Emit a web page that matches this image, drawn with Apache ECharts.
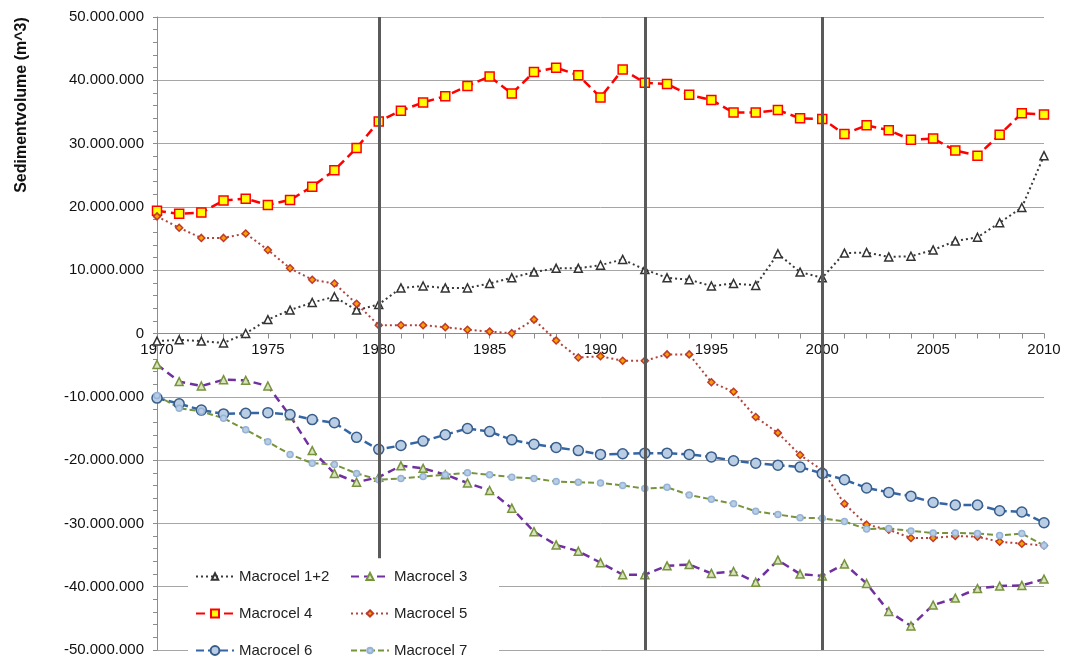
<!DOCTYPE html>
<html><head><meta charset="utf-8">
<script src="https://cdn.jsdelivr.net/npm/echarts@6/dist/echarts.min.js"></script>
<style>html,body{margin:0;padding:0;background:#fff}#c{width:1067px;height:659px}</style>
</head><body><div id="c"></div>
<script>
// Years (x values)
const years = [1970,1971,1972,1973,1974,1975,1976,1977,1978,1979,
               1980,1981,1982,1983,1984,1985,1986,1987,1988,1989,
               1990,1991,1992,1993,1994,1995,1996,1997,1998,1999,
               2000,2001,2002,2003,2004,2005,2006,2007,2008,2009,2010];
// Sediment volume per macrocel, in millions of m^3
const macrocel12 = [-1.2,-1.0,-1.2,-1.5,0.0,2.2,3.7,4.9,5.8,3.7,
                    4.6,7.2,7.5,7.2,7.2,7.9,8.8,9.7,10.3,10.3,
                    10.8,11.7,10.1,8.8,8.5,7.5,7.9,7.6,12.6,9.7,
                    8.8,12.7,12.8,12.1,12.2,13.2,14.6,15.2,17.5,19.9,28.1];
const macrocel3 = [-4.9,-7.6,-8.3,-7.3,-7.4,-8.3,-13.0,-18.5,-22.1,-23.5,
                   -22.7,-20.9,-21.3,-22.3,-23.6,-24.8,-27.6,-31.3,-33.4,-34.4,
                   -36.2,-38.1,-38.1,-36.7,-36.5,-37.9,-37.6,-39.3,-35.8,-38.0,
                   -38.3,-36.4,-39.5,-43.9,-46.2,-42.9,-41.8,-40.3,-39.9,-39.8,-38.8];
const macrocel4 = [19.4,18.9,19.1,21.0,21.3,20.3,21.1,23.2,25.8,29.3,
                   33.5,35.2,36.5,37.5,39.1,40.6,37.9,41.3,42.0,40.8,
                   37.3,41.7,39.6,39.4,37.7,36.9,34.9,34.9,35.3,34.0,
                   33.9,31.5,32.9,32.1,30.6,30.8,28.9,28.1,31.4,34.8,34.6];
const macrocel5 = [18.5,16.7,15.1,15.1,15.8,13.2,10.3,8.5,7.9,4.7,
                   1.3,1.3,1.3,1.0,0.6,0.3,0.05,2.2,-1.1,-3.8,
                   -3.6,-4.3,-4.3,-3.3,-3.3,-7.7,-9.2,-13.2,-15.7,-19.2,
                   -21.6,-26.9,-30.2,-31.0,-32.3,-32.3,-32.0,-32.1,-32.9,-33.2,-33.5];
const macrocel6 = [-10.2,-11.1,-12.1,-12.7,-12.6,-12.5,-12.8,-13.6,-14.1,-16.4,
                   -18.3,-17.7,-17.0,-16.0,-15.0,-15.5,-16.8,-17.5,-18.0,-18.5,
                   -19.1,-19.0,-18.9,-18.9,-19.1,-19.5,-20.1,-20.5,-20.8,-21.1,
                   -22.1,-23.1,-24.4,-25.1,-25.7,-26.7,-27.1,-27.1,-28.0,-28.2,-29.9];
const macrocel7 = [-9.8,-11.8,-12.3,-13.4,-15.2,-17.1,-19.1,-20.5,-20.7,-22.1,
                   -23.1,-22.9,-22.6,-22.3,-22.0,-22.3,-22.7,-22.9,-23.4,-23.5,
                   -23.6,-24.0,-24.5,-24.3,-25.5,-26.2,-26.9,-28.1,-28.6,-29.1,
                   -29.2,-29.7,-30.9,-30.8,-31.2,-31.5,-31.5,-31.6,-31.9,-31.6,-33.5];
const seriesNames = ['Macrocel 1+2','Macrocel 3','Macrocel 4','Macrocel 5','Macrocel 6','Macrocel 7'];
// Vertical reference lines: year, top value, bottom value (m^3)
const refYears = [1980, 1992, 2000];
const refTop = [50000000, 50000000, 50000000];
const refBottom = [-35500000, -50000000, -50000000];
const UNIT = 1000000;

const FONT = "'Liberation Sans', Arial, sans-serif";
function pairs(vals){ return years.map((y,i)=>[y, vals[i]*UNIT]); }
function fmt(v){
  const s = String(Math.abs(Math.round(v))).replace(/\B(?=(\d{3})+(?!\d))/g,'.');
  return (v<0?'-':'')+s;
}

const styles = [
  {data:macrocel12, color:'#3a3a3a', type:[2,3], width:2, symbol:'triangle', size:8, fill:'#ffffff', border:'#333333', legendSize:8},
  {data:macrocel3, color:'#7030A0', type:[8,5], width:2.5, symbol:'triangle', size:8, fill:'#D7E4BD', border:'#77933C', legendSize:9},
  {data:macrocel4, color:'#FF0000', type:[9,5], width:2.5, symbol:'rect', size:9, fill:'#FFFF00', border:'#FF0000', legendSize:10},
  {data:macrocel5, color:'#B0443C', type:[2,3], width:2, symbol:'diamond', size:7, fill:'#F5A000', border:'#C0392B', legendSize:8},
  {data:macrocel6, color:'#3465A4', type:[8,4], width:2.5, symbol:'circle', size:10, fill:'#B9CDE5', border:'#385D8A', legendSize:11},
  {data:macrocel7, color:'#77933C', type:[6,3], width:2, symbol:'circle', size:6, fill:'#B9CDE5', border:'#95B3D7', legendSize:7}
];

const series = styles.map((s,i)=>({
  name: seriesNames[i], type:'line', z: 3,
  data: pairs(s.data),
  symbol: s.symbol, symbolSize: s.size, showAllSymbol:true,
  lineStyle:{color:s.color, width:s.width, type:s.type},
  itemStyle:{color:s.fill, borderColor:s.border, borderWidth:1.5},
  emphasis:{disabled:true}, animation:false
}));
series.unshift({
  name:'ref', type:'line', data:[], z:1, silent:true, animation:false,
  markLine:{
    symbol:'none', silent:true, animation:false, label:{show:false},
    lineStyle:{color:'#5A5A5A', width:3, type:'solid'},
    data: refYears.map((y,i)=>[{coord:[y, refTop[i]]},{coord:[y, refBottom[i]]}])
  }
});

// Legend placement: column/row slots for each series (row centres 577, 614, 651)
const legendLeft = [195, 350, 195, 350, 195, 350];
const legendMid  = [577, 577, 614, 614, 651, 651];
const legendText = {fontFamily:FONT, fontSize:15, color:'#222'};
const legends = seriesNames.map((n,i)=>({
  orient:'horizontal', left:legendLeft[i], top:legendMid[i]-8, padding:0,
  itemWidth:38, itemHeight:styles[i].legendSize, z:10, textStyle:legendText,
  data:[n], selectedMode:false
}));

const chart = echarts.init(document.getElementById('c'), null, {renderer:'canvas'});
chart.setOption({
  animation:false,
  backgroundColor:'#fff',
  grid:{left:157, right:23, top:17, bottom:9, containLabel:false, outerBoundsMode:'none'},
  xAxis:{
    type:'value', min:1970, max:2010, interval:5, position:'bottom', offset:-316.5,
    axisLine:{onZero:false, lineStyle:{color:'#8c8c8c', width:1}},
    axisTick:{show:true, length:5, lineStyle:{color:'#8c8c8c'}},
    minorTick:{show:true, splitNumber:5, length:5, lineStyle:{color:'#8c8c8c'}},
    splitLine:{show:false},
    axisLabel:{fontFamily:FONT, fontSize:15, color:'#111', margin:9, formatter:v=>String(v)}
  },
  yAxis:{
    type:'value', min:-50000000, max:50000000, interval:10000000,
    axisLine:{show:true, onZero:false, lineStyle:{color:'#8c8c8c'}},
    axisTick:{show:true, length:4, lineStyle:{color:'#8c8c8c'}},
    minorTick:{show:true, splitNumber:5, length:4, lineStyle:{color:'#8c8c8c'}},
    splitLine:{show:true, lineStyle:{color:'#A6A6A6', width:1}},
    axisLabel:{fontFamily:FONT, fontSize:15, color:'#111', margin:13, formatter:fmt}
  },
  legend: legends,
  graphic:[
    {type:'rect', shape:{x:188, y:558, width:311, height:101}, style:{fill:'#ffffff'}, z:5, silent:true},
    {type:'text', x:22, y:105, rotation:Math.PI/2,
     style:{text:'Sedimentvolume (m^3)', font:"bold 16px 'Liberation Sans', Arial, sans-serif", fill:'#111', align:'center', verticalAlign:'middle'}}
  ],
  series: series
});
</script></body></html>
